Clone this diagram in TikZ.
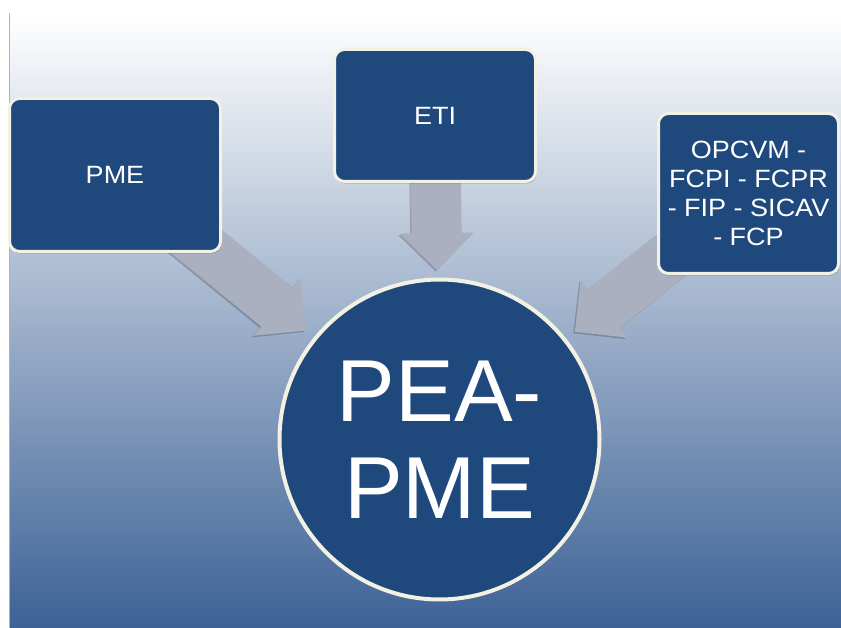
\documentclass[tikz,border=0pt]{standalone}
\usepackage{fontspec}
\setmainfont{Liberation Sans}
\newfontfamily\boxfont[FakeStretch=1.08]{Liberation Sans}
\usetikzlibrary{calc,shadows}
\definecolor{boxblue}{HTML}{1F497D}
\definecolor{rimcream}{HTML}{F3F0E4}
\definecolor{arrowgray}{HTML}{AAB0C0}
\definecolor{bgmid}{HTML}{A3B5CD}
\definecolor{bgbot}{HTML}{3D6296}
\pgfdeclarelayer{bglayer}
\pgfdeclarelayer{arrlayer}
\pgfsetlayers{bglayer,arrlayer,main}
% block arrow from #1 (start, hidden under box) to #2 (tip)
\newcommand\blockarrow[2]{%
  \coordinate (ah) at ($(#2)!37pt!(#1)$);
  \fill[arrowfill] ($(#1)!25pt!90:(#2)$) -- ($(ah)!25pt!-90:(#1)$) -- ($(ah)!37pt!-90:(#1)$) -- (#2)
    -- ($(ah)!37pt!90:(#1)$) -- ($(ah)!25pt!90:(#1)$) -- ($(#1)!25pt!-90:(#2)$) -- cycle;}
\begin{document}
\begin{tikzpicture}[x=1pt,y=-1pt,
  box/.style={draw=rimcream, line width=3pt, fill=boxblue, rounded corners=10pt, text=white,
    font=\boxfont\fontsize{25}{29}\selectfont, align=center, inner sep=0pt,
    drop shadow={shadow xshift=1pt, shadow yshift=-2pt, opacity=0.25, fill=black}},
  hub/.style={circle, draw=rimcream, line width=4pt, fill=boxblue, text=white,
    minimum size=320pt, inner sep=0pt, align=center, font=\fontsize{88}{97}\selectfont,
    drop shadow={shadow xshift=1pt, shadow yshift=-2pt, opacity=0.25, fill=black}},
  arrowfill/.style={fill=arrowgray,
    drop shadow={shadow xshift=-1.5pt, shadow yshift=-1.5pt, opacity=0.2, fill=black}}]
\useasboundingbox (0,0) rectangle (841,628);

\node[box, minimum width=211pt, minimum height=153pt] (pme) at (115,175) {PME};
\node[box, minimum width=201pt, minimum height=132pt] (eti) at (435,115.5) {ETI};
\node[box, minimum width=180pt, minimum height=160pt] (fonds) at (748.5,193.5)
  {OPCVM -\\FCPI - FCPR\\- FIP - SICAV\\- FCP};
\node[hub] (pea) at (439.5,439.5) {PEA-\\PME};

\begin{pgfonlayer}{bglayer}
  \fill[top color=white, middle color=bgmid, bottom color=bgbot] (9,13) rectangle (841,628);
  \draw[black!30, line width=1pt] (9.5,13) -- (9.5,628);
\end{pgfonlayer}

\begin{pgfonlayer}{arrlayer}
  \coordinate (tpme) at ($(pea.center)!172.5pt!(pme.center)$);
  \coordinate (teti) at ($(pea.center)!169.5pt!(eti.center)$);
  \coordinate (tfonds) at ($(pea.center)!173pt!(fonds.center)$);
  \blockarrow{pme.center}{tpme}
  \blockarrow{eti.center}{teti}
  \blockarrow{fonds.center}{tfonds}
\end{pgfonlayer}
\end{tikzpicture}
\end{document}
